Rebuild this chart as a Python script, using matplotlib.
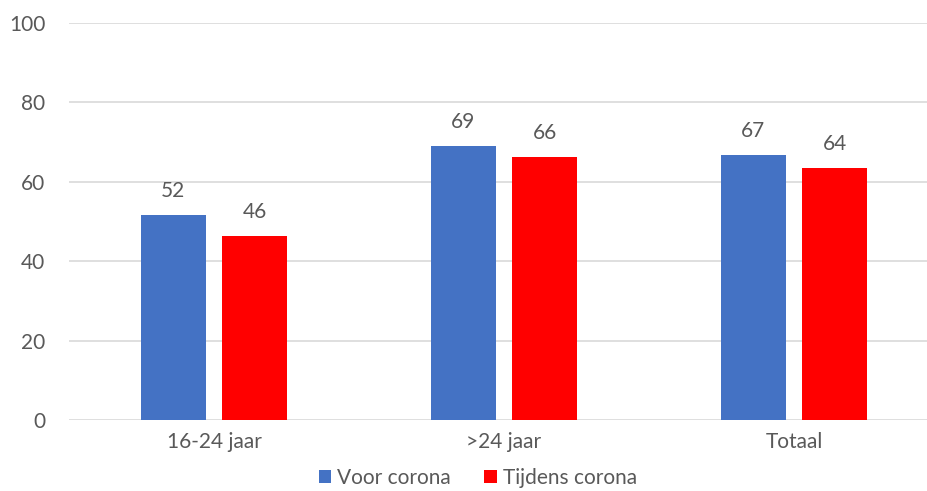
import matplotlib as mpl
mpl.use('Agg')
import matplotlib.pyplot as plt
import numpy as np

categories = ['16-24 jaar', '>24 jaar', 'Totaal']
voor = [51.6, 69.0, 66.7]
tijdens = [46.4, 66.2, 63.6]
series_names = ['Voor corona', 'Tijdens corona']

blue = '#4472C4'
red = '#FF0000'
txt = '#595959'

plt.rcParams['font.family'] = ['Lato', 'DejaVu Sans']
fs = 15

fig = plt.figure(figsize=(9.28, 4.91), dpi=100)
ax = fig.add_axes([69 / 928, 1 - 420 / 491, 1 - 69 / 928, (420 - 23) / 491])

x = np.arange(len(categories))
w = 0.224
off = 0.141
b1 = ax.bar(x - off, voor, w, color=blue, label=series_names[0], zorder=2)
b2 = ax.bar(x + off, tijdens, w, color=red, label=series_names[1], zorder=2)

for bars, vals in ((b1, voor), (b2, tijdens)):
    for b, v in zip(bars, vals):
        ax.annotate('{:.0f}'.format(v), (b.get_x() + b.get_width() / 2, v),
                    xytext=(0, 10), textcoords='offset points',
                    ha='center', va='bottom', fontsize=fs, color=txt)

ax.set_ylim(0, 100)
ax.set_yticks(range(0, 101, 20))
ax.set_xlim(-0.5, -0.5 + 859 / 290)
ax.set_xticks(x)
ax.set_xticklabels(categories)
ax.grid(axis='y', color='#d9d9d9', linewidth=1.2, zorder=0)
for s in ax.spines.values():
    s.set_visible(False)
ax.tick_params(axis='both', length=0, labelsize=fs, labelcolor=txt)
ax.tick_params(axis='y', pad=17)
ax.tick_params(axis='x', pad=9)

fig.legend(handles=[b1, b2], loc='center', bbox_to_anchor=(478 / 928, 1 - 478 / 491),
           ncol=2, frameon=False, fontsize=fs, labelcolor=txt,
           handlelength=0.6, handleheight=0.6, handletextpad=0.3, columnspacing=1.6,
           borderpad=0, borderaxespad=0)

fig.savefig('out.png', dpi=100)
